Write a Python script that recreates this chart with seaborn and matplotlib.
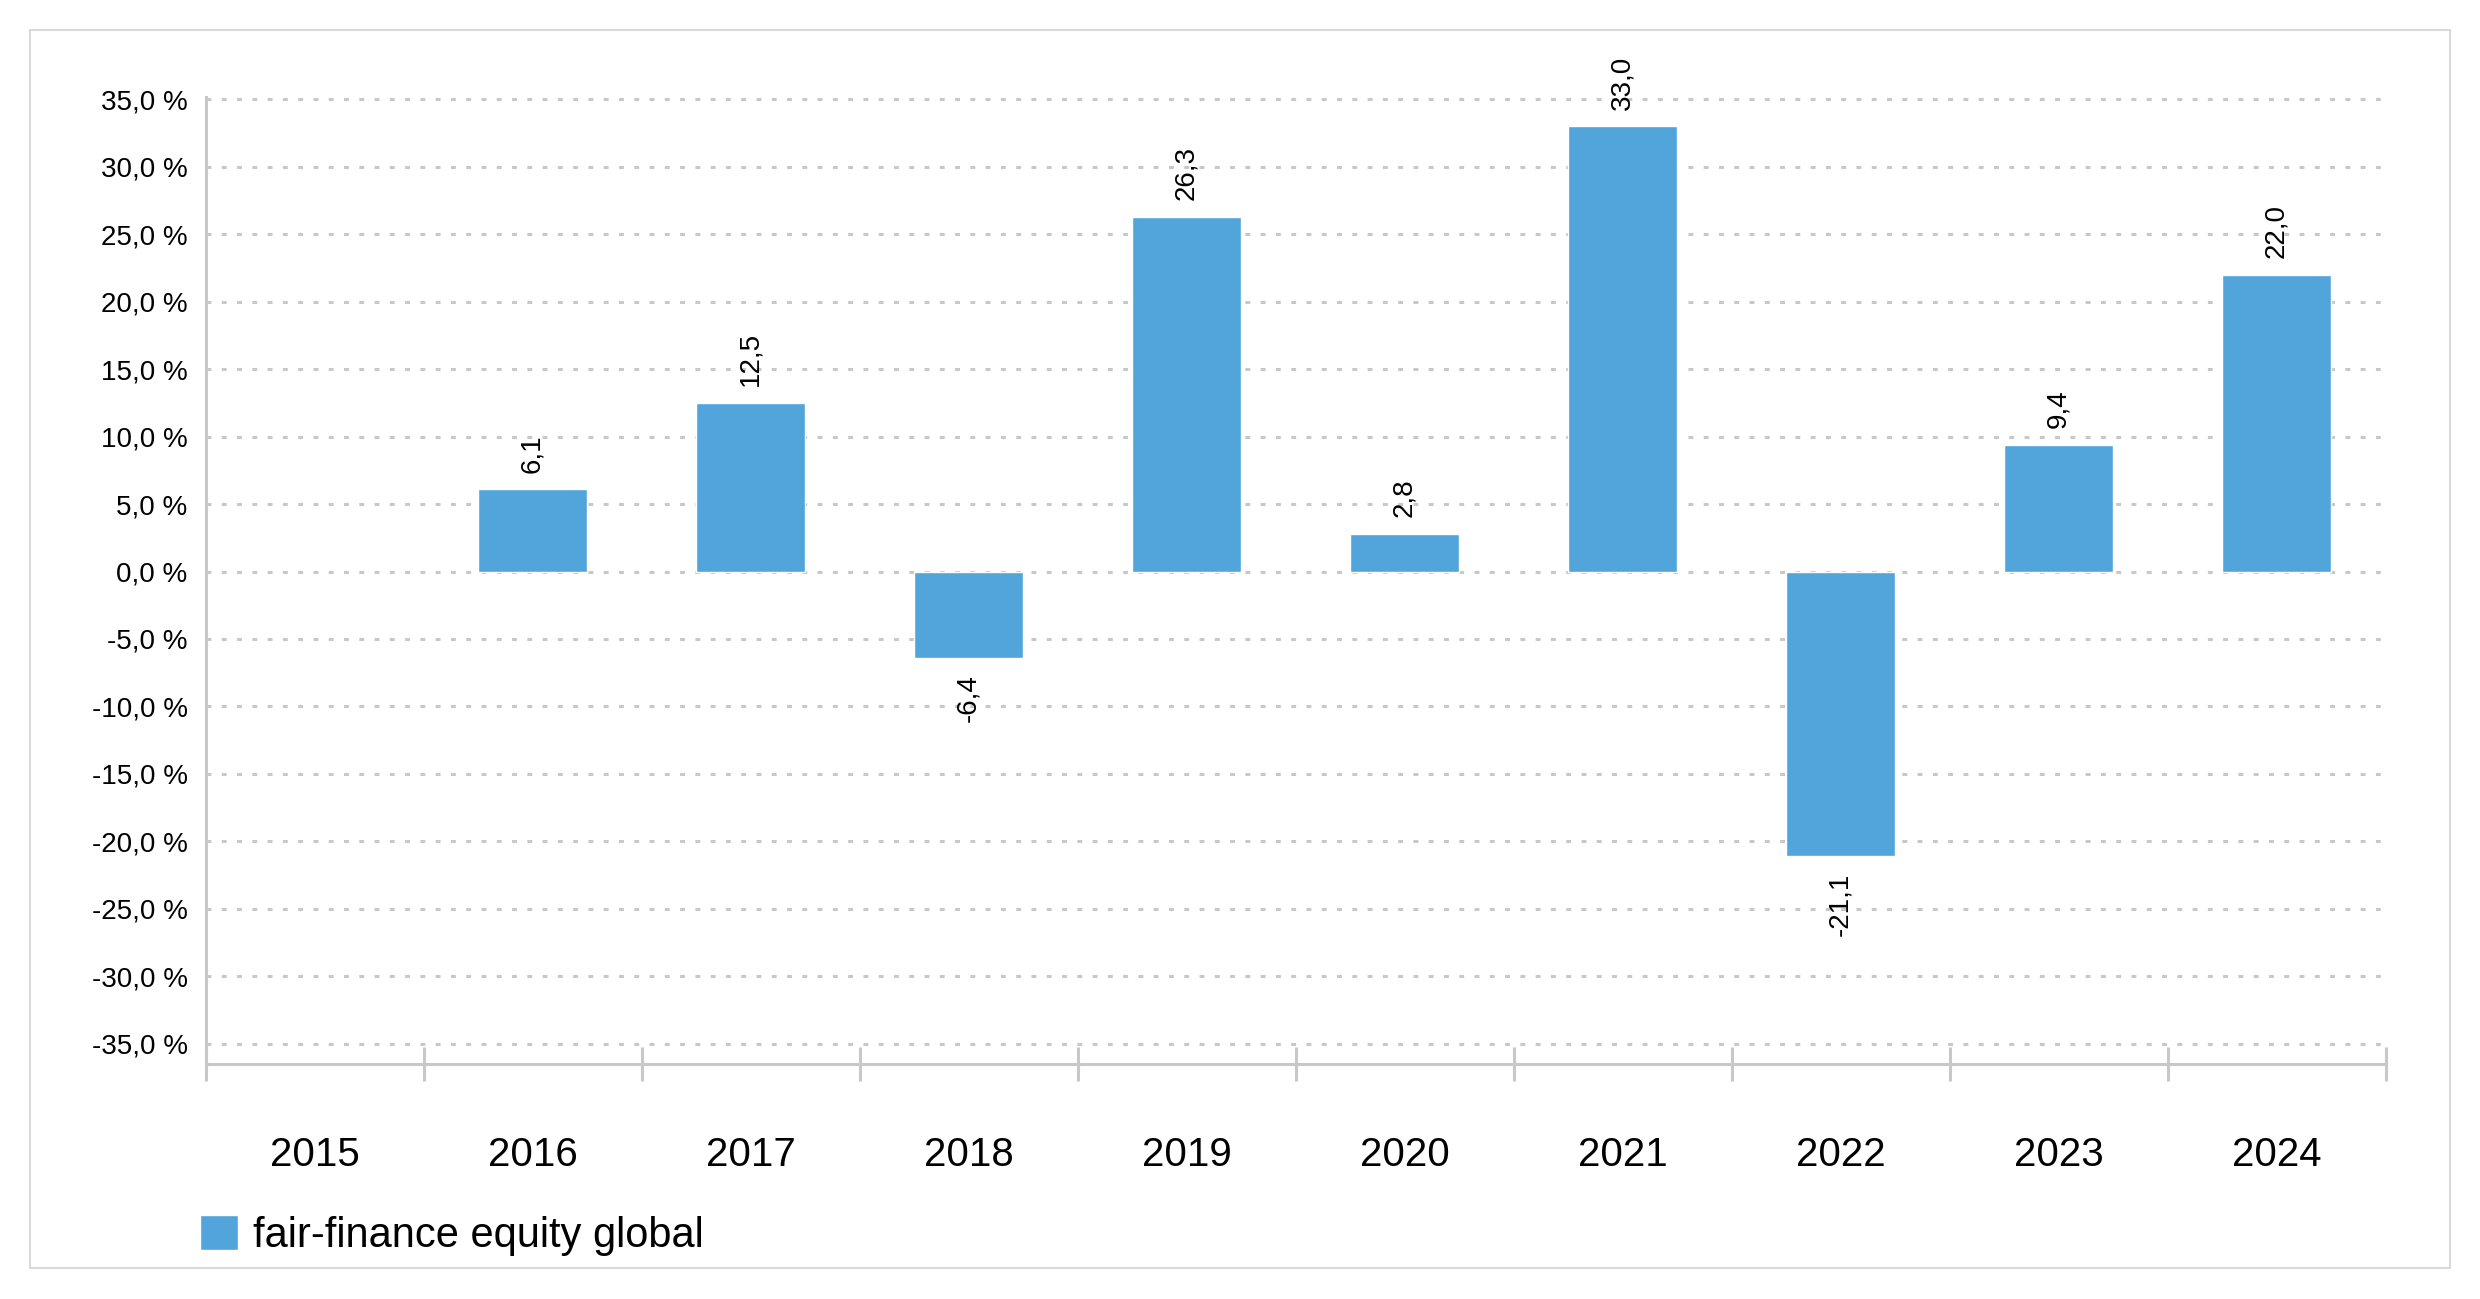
import numpy as np
import pandas as pd
import matplotlib
matplotlib.use("Agg")
import matplotlib.pyplot as plt
import seaborn as sns
from matplotlib.ticker import FuncFormatter
from matplotlib.patches import Rectangle

# data (2015 has no value)
years = ["2015", "2016", "2017", "2018", "2019", "2020", "2021", "2022", "2023", "2024"]
returns = [np.nan, 6.1, 12.5, -6.4, 26.3, 2.8, 33.0, -21.1, 9.4, 22.0]
series_name = "fair-finance equity global"
y_ticks = np.arange(-35, 36, 5)

df = pd.DataFrame({"Year": years, "Return": returns, "Fund": series_name})
df = df.dropna()  # keep the empty 2015 slot via order=years

bar_color = "#52A5DA"
line_gray = "#C8C8C8"

sns.set_style("white")
plt.rcParams["font.family"] = ["Liberation Sans", "DejaVu Sans"]
plt.rcParams["text.color"] = "black"

fig = plt.figure(figsize=(24.8, 12.99), dpi=100)
ax = fig.add_axes([0.0829, 0.181, 0.879, 0.7440])

sns.barplot(data=df, x="Year", y="Return", hue="Fund", order=years,
            palette=[bar_color], width=0.5, saturation=1, errorbar=None, ax=ax)

ax.set_xlim(-0.5, 9.5)
ax.set_ylim(-36.5, 35.15)
ax.set_xlabel("")
ax.set_ylabel("")

# dotted grid
ax.set_axisbelow(True)
ax.yaxis.grid(True, color=line_gray, linewidth=2.2, linestyle=(0, (1.6, 3.4)))
ax.xaxis.grid(False)

for side in ["top", "right"]:
    ax.spines[side].set_visible(False)
for side in ["left", "bottom"]:
    ax.spines[side].set_color(line_gray)
    ax.spines[side].set_linewidth(2.2)

# y axis
ax.set_yticks(y_ticks)
ax.yaxis.set_major_formatter(FuncFormatter(lambda v, _: f"{v:.1f}".replace(".", ",") + " %"))
ax.tick_params(axis="y", left=False, length=0, pad=13, labelsize=20, labelcolor="black")

# x axis: labels in the middle, tick marks between categories
ax.set_xticks(range(len(years)))
ax.set_xticklabels(years)
ax.tick_params(axis="x", which="major", bottom=True, length=0, pad=52,
               labelsize=29, labelcolor="black")
ax.set_xticks(np.arange(-0.5, len(years), 1), minor=True)
ax.tick_params(axis="x", which="minor", bottom=True, length=24, width=2.2,
               color=line_gray, direction="inout")

# value labels (skip the empty year)
for p in ax.patches:
    idx = int(round(p.get_x() + p.get_width() / 2))
    h = p.get_height()
    if idx < 0 or idx >= len(returns) or np.isnan(returns[idx]) or np.isnan(h):
        continue
    label = f"{h:.1f}".replace(".", ",")
    ax.annotate(label, (p.get_x() + p.get_width() / 2, h),
                xytext=(0, 12 if h >= 0 else -12), textcoords="offset points",
                rotation=90, ha="center", va="bottom" if h >= 0 else "top",
                fontsize=20, color="black")

# legend bottom left
handles, labels = ax.get_legend_handles_labels()
if ax.get_legend() is not None:
    ax.get_legend().remove()
fig.legend(handles, labels, loc="center left", bbox_to_anchor=(0.0806, 0.049),
           frameon=False, fontsize=30, handlelength=0.91, handleheight=0.91,
           handletextpad=0.36, borderpad=0, borderaxespad=0, labelcolor="black")

# light frame around the whole chart
fig.add_artist(Rectangle((30 / 2480, 1 - 1268 / 1299), 2420 / 2480, 1238 / 1299,
                         transform=fig.transFigure, fill=False,
                         edgecolor="#D9D9D9", linewidth=1.5))

fig.savefig("out.png", dpi=100)
